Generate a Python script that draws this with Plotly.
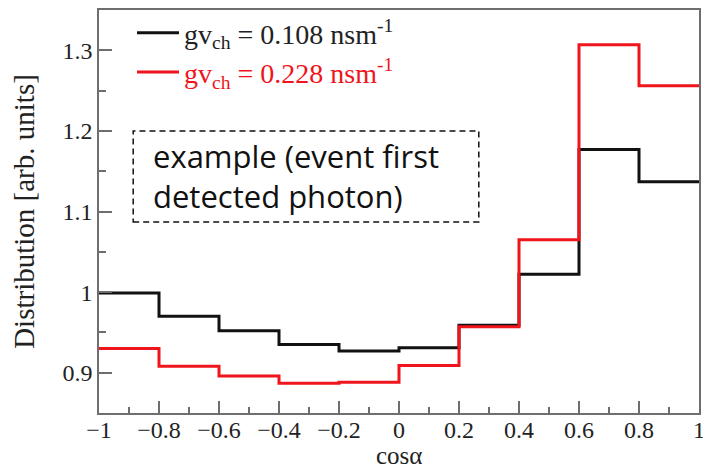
import plotly.graph_objects as go

# Histogram bin edges in cos(alpha) and bin contents for the two gv_ch settings
bin_edges = [-1.0, -0.8, -0.6, -0.4, -0.2, 0.0, 0.2, 0.4, 0.6, 0.8, 1.0]
dist_gv_0108 = [0.999, 0.970, 0.952, 0.935, 0.927, 0.931, 0.959, 1.022, 1.177, 1.137]
dist_gv_0228 = [0.930, 0.908, 0.896, 0.887, 0.888, 0.909, 0.957, 1.065, 1.307, 1.256]

x_tick_vals = [-1, -0.8, -0.6, -0.4, -0.2, 0, 0.2, 0.4, 0.6, 0.8, 1]
y_tick_vals = [0.9, 1.0, 1.1, 1.2, 1.3]
y_tick_text = ["0.9", "1", "1.1", "1.2", "1.3"]

note_lines = ["example (event first", "detected photon)"]
x_title = "cos\u03b1"

RED = "#f0141c"
name_0108 = "gv<sub>ch</sub> = 0.108 nsm<sup>-1</sup>"
name_0228 = f"<span style='color:{RED}'>gv<sub>ch</sub> = 0.228 nsm<sup>-1</sup></span>"

SERIF = "'Liberation Serif', 'Times New Roman', serif"
AXIS_GREY = "#6e6e6e"
TEXT = "#222222"


def step_y(values):
    # repeat the last bin so the "hv" step closes at the upper edge
    return list(values) + [values[-1]]


fig = go.Figure()
fig.add_trace(go.Scatter(
    x=bin_edges, y=step_y(dist_gv_0108), mode="lines", line_shape="hv",
    line=dict(color="#111111", width=3), name=name_0108,
))
fig.add_trace(go.Scatter(
    x=bin_edges, y=step_y(dist_gv_0228), mode="lines", line_shape="hv",
    line=dict(color=RED, width=3), name=name_0228,
))

# dashed text box with a two-line note
fig.add_shape(type="rect", xref="paper", yref="paper",
              x0=0.057, x1=0.633, y0=0.474, y1=0.700,
              line=dict(color="#111111", width=1.5, dash="6px,4px"))
fig.add_annotation(xref="paper", yref="paper", x=0.087, y=0.588,
                   xanchor="left", yanchor="middle", align="left", showarrow=False,
                   text="<br>".join(note_lines),
                   font=dict(family="Open Sans", size=31, color="#111111"))

# x-axis title placed just below the tick labels
fig.add_annotation(xref="paper", yref="paper", x=0.5, y=-0.1405,
                   xanchor="center", yanchor="bottom", showarrow=False,
                   text=x_title, borderpad=0,
                   font=dict(family=SERIF, size=25, color=TEXT))

fig.update_layout(
    width=703, height=471,
    margin=dict(l=99, r=4, t=10, b=58),
    paper_bgcolor="white", plot_bgcolor="white",
    font=dict(family=SERIF, color=TEXT),
    legend=dict(x=0.055, y=1.005, xanchor="left", yanchor="top", itemwidth=42,
                bgcolor="rgba(0,0,0,0)", font=dict(family=SERIF, size=28, color=TEXT),
                tracegroupgap=0),
    xaxis=dict(
        range=[-1, 1], tickvals=x_tick_vals, ticks="inside", ticklen=12, tickwidth=1.5,
        tickcolor=AXIS_GREY, showline=True, linecolor=AXIS_GREY, linewidth=1.5, mirror=True,
        showgrid=False, zeroline=False, tickfont=dict(family=SERIF, size=24, color=TEXT),
        ticklabeloverflow="allow", ticklabelstandoff=-6,
        minor=dict(ticks="inside", ticklen=6, dtick=0.1, tickwidth=1.5, tickcolor=AXIS_GREY),
        automargin=False,
    ),
    yaxis=dict(
        range=[0.85, 1.35], tickvals=y_tick_vals, ticktext=y_tick_text,
        ticks="inside", ticklen=13, tickwidth=1.5,
        tickcolor=AXIS_GREY, showline=True, linecolor=AXIS_GREY, linewidth=1.5, mirror=True,
        showgrid=False, zeroline=False, tickfont=dict(family=SERIF, size=24, color=TEXT),
        minor=dict(ticks="inside", ticklen=7, dtick=0.05, tickwidth=1.5, tickcolor=AXIS_GREY),
        title=dict(text="Distribution [arb. units]", font=dict(family=SERIF, size=29, color=TEXT),
                   standoff=19),
        automargin=False,
    ),
)

fig.write_html("out.html")
